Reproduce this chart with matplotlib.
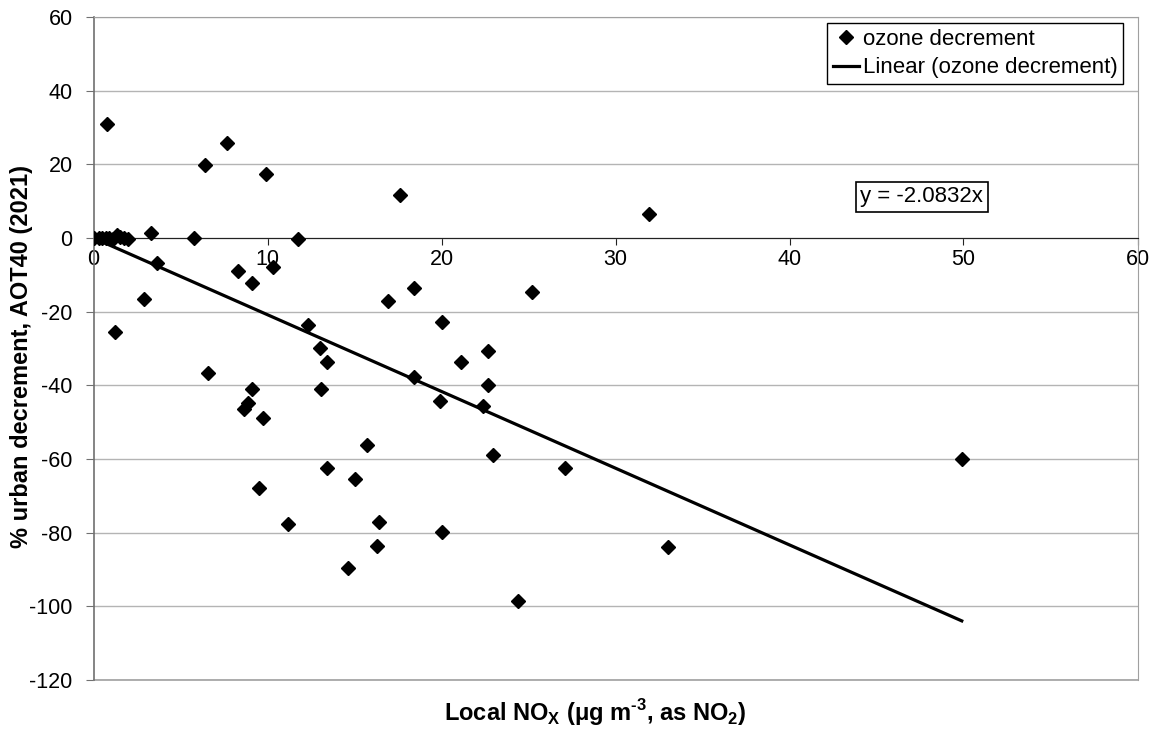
import matplotlib
matplotlib.use('Agg')
import numpy as np
import matplotlib.pyplot as plt
from matplotlib.lines import Line2D

plt.rcParams['font.family'] = ['Liberation Sans', 'DejaVu Sans']
plt.rcParams['axes.unicode_minus'] = False
plt.rcParams['mathtext.fontset'] = 'custom'
plt.rcParams['mathtext.rm'] = 'Liberation Sans:bold'

# local NOx (x) and % urban decrement in AOT40 (y)
nox = [0.05, 0.3, 0.5, 0.7, 0.9, 1.1, 1.35, 1.5, 1.75, 2.0,
       0.8, 6.4, 7.7, 9.9, 3.3, 5.8, 11.75, 10.3, 3.65, 8.3,
       2.9, 9.1, 1.24, 6.6, 9.1, 8.9, 8.65, 9.75, 9.5, 16.9,
       12.3, 13.0, 13.4, 13.1, 15.7, 13.4, 15.0, 18.4, 25.2, 20.0,
       21.1, 22.7, 18.4, 22.7, 19.9, 22.4, 22.95, 27.1, 11.2, 16.4,
       20.0, 16.3, 14.6, 24.4, 33.0, 49.9, 17.6, 31.9]
decrement = [0, 0, 0, 0, 0, -0.3, 0.8, 0.3, 0, -0.2,
             30.9, 19.8, 25.7, 17.3, 1.3, 0, -0.4, -8.0, -6.9, -9.0,
             -16.6, -12.3, -25.6, -36.7, -41.1, -44.9, -46.5, -49.0, -68.0, -17.2,
             -23.7, -29.9, -33.8, -41.1, -56.3, -62.5, -65.5, -13.6, -14.7, -22.9,
             -33.8, -30.8, -37.8, -40.0, -44.3, -45.7, -59.0, -62.5, -77.7, -77.2,
             -79.9, -83.7, -89.7, -98.6, -84.0, -60.0, 11.6, 6.4]
slope = -2.0832

fig = plt.figure(figsize=(11.6, 7.29), dpi=100)
ax = fig.add_axes([93.5 / 1160, 1 - 680 / 729, 1044 / 1160, 663 / 729])

ax.set_xlim(0, 60)
ax.set_ylim(-120, 60)
ax.set_xticks(range(0, 61, 10))
ax.set_yticks(range(-120, 61, 20))

# gridlines
ax.grid(axis='y', color='#b4b4b4', lw=1)
ax.axhline(-120, color='#a0a0a0', lw=1.2, clip_on=False, zorder=1)
ax.set_axisbelow(True)

ax.spines['bottom'].set_position(('data', 0))
ax.spines['bottom'].set_color('#222222')
ax.spines['left'].set_color('#707070')
ax.spines['left'].set_linewidth(1.2)
ax.spines['top'].set_color('#a0a0a0')
ax.spines['right'].set_color('#a0a0a0')
ax.tick_params(axis='x', direction='out', length=5, color='#222222',
               labelsize=15.5, pad=3)
ax.tick_params(axis='y', direction='out', length=6, color='#707070',
               labelsize=15.5, pad=9)

ax.plot(nox, decrement, linestyle='none', marker='D', ms=7, color='black',
        zorder=3)
xfit = np.array([0, max(nox)])
ax.plot(xfit, slope * xfit, color='black', lw=2.3, zorder=2)

ax.text(47.6, 11.2, 'y = -2.0832x', fontsize=16, ha='center', va='center',
        bbox=dict(boxstyle='square,pad=0.2', fc='white', ec='black', lw=1.2))

handles = [Line2D([], [], linestyle='none', marker='D', ms=7, color='black'),
           Line2D([], [], color='black', lw=2.3)]
leg = fig.legend(handles, ['ozone decrement', 'Linear (ozone decrement)'],
                 loc='upper right', bbox_to_anchor=(1123 / 1160, 1 - 23 / 729),
                 fontsize=16, fancybox=False, framealpha=1, edgecolor='black',
                 borderaxespad=0, handlelength=1.2, handletextpad=0.15,
                 borderpad=0.25, labelspacing=0.35)
leg.get_frame().set_linewidth(1)

fig.text(22 / 1160, 1 - 357 / 729, '% urban decrement, AOT40 (2021)',
         fontsize=17, fontweight='bold', rotation=90, ha='center', va='center')
fig.text(595 / 1160, 1 - 713 / 729,
         r'Local NO$_\mathregular{X}$ ($\mathregular{\mu}$g m$^{\text{-3}}$, as NO$_\mathregular{2}$)',
         fontsize=17, fontweight='bold', ha='center', va='center')

plt.savefig('out.png', dpi=100)
